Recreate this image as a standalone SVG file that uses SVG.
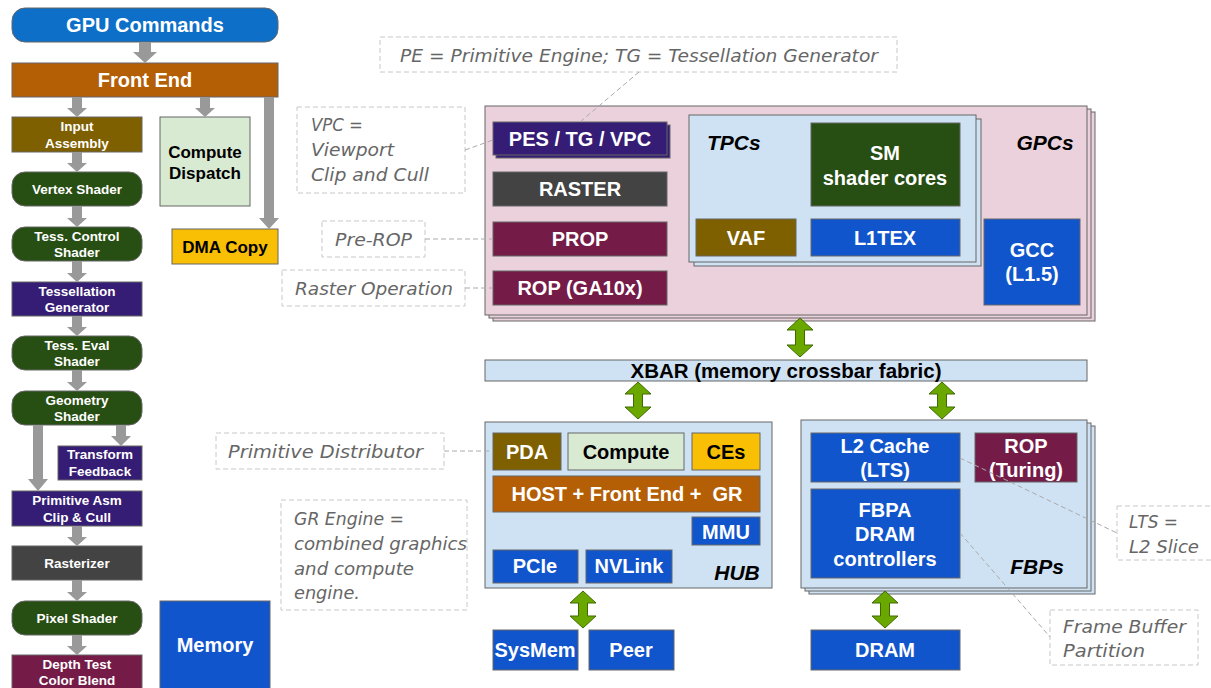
<svg xmlns="http://www.w3.org/2000/svg" width="1211" height="688" viewBox="0 0 1211 688">
<style>
.lb{font-family:"Liberation Sans",Arial,sans-serif;font-weight:bold;text-anchor:middle;fill:#fff}
.sm{font-size:13.5px}
.md{font-size:20px}
.lg{font-size:17px}
.dk{fill:#000}
.ti{font-family:"Liberation Sans",Arial,sans-serif;font-weight:bold;font-style:italic;font-size:21px;fill:#000}
.an{font-family:"DejaVu Sans",sans-serif;font-style:italic;font-size:18px;fill:#666}
.ab{fill:#fff;stroke:#c8c8c8;stroke-width:1;stroke-dasharray:5 3}
.ac{stroke:#aaa;stroke-width:1;stroke-dasharray:5 3;fill:none}
.bx{stroke:#666;stroke-width:1}
.blue{fill:#1155cc}.orange{fill:#b45f06}.olive{fill:#7f6000}.green{fill:#274e13}.purple{fill:#351c75}
.gray{fill:#434343}.maroon{fill:#741b47}.mint{fill:#d9ead3}.yellow{fill:#f9bf05}.pink{fill:#ead1dc}.lblue{fill:#cfe2f3}
.ga{fill:#999}
.da{fill:#6aa800;stroke:#3e6a00;stroke-width:1}
</style>
<rect width="1211" height="688" fill="#fff"/>

<!-- Left pipeline -->
<g id="gpu-commands"><rect class="bx" x="12" y="8" width="266" height="34" rx="13" fill="#0d6fc7"/><text class="lb md" x="145" y="32">GPU Commands</text></g>
<g id="front-end"><rect class="bx orange" x="12" y="63" width="266" height="34"/><text class="lb md" x="145" y="87">Front End</text></g>
<g id="input-assembly"><rect class="bx olive" x="12" y="117" width="130" height="35"/><text class="lb sm" x="77" y="131">Input</text><text class="lb sm" x="77" y="148">Assembly</text></g>
<g id="compute-dispatch"><rect class="bx mint" x="160" y="117" width="90" height="89"/><text class="lb lg dk" x="205" y="158">Compute</text><text class="lb lg dk" x="205" y="179">Dispatch</text></g>
<g id="vertex-shader"><rect class="bx green" x="12" y="172" width="130" height="34" rx="13"/><text class="lb sm" x="77" y="194">Vertex Shader</text></g>
<g id="dma-copy"><rect class="bx yellow" x="172" y="229" width="106" height="35"/><text class="lb lg dk" x="225" y="253">DMA Copy</text></g>
<g id="tess-control"><rect class="bx green" x="12" y="227" width="130" height="34" rx="13"/><text class="lb sm" x="77" y="241">Tess. Control</text><text class="lb sm" x="77" y="257">Shader</text></g>
<g id="tess-generator"><rect class="bx purple" x="12" y="282" width="130" height="34"/><text class="lb sm" x="77" y="296">Tessellation</text><text class="lb sm" x="77" y="312">Generator</text></g>
<g id="tess-eval"><rect class="bx green" x="12" y="336" width="130" height="34" rx="13"/><text class="lb sm" x="77" y="350">Tess. Eval</text><text class="lb sm" x="77" y="366">Shader</text></g>
<g id="geometry-shader"><rect class="bx green" x="12" y="391" width="130" height="34" rx="13"/><text class="lb sm" x="77" y="405">Geometry</text><text class="lb sm" x="77" y="421">Shader</text></g>
<g id="transform-feedback"><rect class="bx purple" x="58" y="446" width="84" height="34"/><text class="lb sm" x="100" y="459">Transform</text><text class="lb sm" x="100" y="476">Feedback</text></g>
<g id="primitive-asm"><rect class="bx purple" x="12" y="491" width="130" height="35"/><text class="lb sm" x="77" y="505">Primitive Asm</text><text class="lb sm" x="77" y="522">Clip &amp; Cull</text></g>
<g id="rasterizer"><rect class="bx gray" x="12" y="546" width="130" height="34"/><text class="lb sm" x="77" y="568">Rasterizer</text></g>
<g id="pixel-shader"><rect class="bx green" x="12" y="601" width="130" height="34" rx="13"/><text class="lb sm" x="77" y="623">Pixel Shader</text></g>
<g id="depth-test"><rect class="bx maroon" x="12" y="655" width="130" height="40"/><text class="lb sm" x="77" y="669">Depth Test</text><text class="lb sm" x="77" y="685">Color Blend</text></g>
<g id="memory"><rect class="bx blue" x="160" y="601" width="110" height="95"/><text class="lb md" x="215" y="652">Memory</text></g>

<!-- GPCs -->
<g id="gpcs">
<rect class="bx pink" x="493" y="112" width="602" height="209"/>
<rect class="bx pink" x="489" y="109" width="602" height="209"/>
<rect class="bx pink" x="485" y="106" width="602" height="209"/>
<text class="ti" x="1045" y="150" text-anchor="middle">GPCs</text>
</g>
<g id="pes-tg-vpc"><rect class="bx purple" x="496" y="125" width="174" height="33"/><rect class="bx purple" x="493" y="122" width="174" height="33"/><text class="lb md" x="580" y="146">PES / TG / VPC</text></g>
<g id="raster"><rect class="bx gray" x="493" y="172" width="174" height="34"/><text class="lb md" x="580" y="196">RASTER</text></g>
<g id="prop"><rect class="bx maroon" x="493" y="222" width="174" height="34"/><text class="lb md" x="580" y="246">PROP</text></g>
<g id="rop-ga10x"><rect class="bx maroon" x="493" y="271" width="174" height="34"/><text class="lb md" x="580" y="295">ROP (GA10x)</text></g>
<g id="tpcs">
<rect class="bx lblue" x="694" y="119" width="287" height="147"/>
<rect class="bx lblue" x="689" y="115" width="287" height="147"/>
<text class="ti" x="707" y="150">TPCs</text>
</g>
<g id="sm"><rect class="bx green" x="811" y="123" width="149" height="83"/><text class="lb md" x="885" y="160">SM</text><text class="lb md" x="885" y="185">shader cores</text></g>
<g id="vaf"><rect class="bx olive" x="696" y="219" width="100" height="37"/><text class="lb md" x="746" y="245">VAF</text></g>
<g id="l1tex"><rect class="bx blue" x="811" y="219" width="149" height="37"/><text class="lb md" x="885" y="245">L1TEX</text></g>
<g id="gcc"><rect class="bx blue" x="984" y="219" width="96" height="86"/><text class="lb md" x="1032" y="257">GCC</text><text class="lb md" x="1032" y="281">(L1.5)</text></g>

<!-- XBAR -->
<g id="xbar"><rect class="bx lblue" x="485" y="360" width="602" height="21"/><text class="lb dk" style="font-size:20.5px" x="786" y="378">XBAR (memory crossbar fabric)</text></g>

<!-- HUB -->
<g id="hub"><rect class="bx lblue" x="485" y="422" width="287" height="166"/><text class="ti" x="737" y="580" text-anchor="middle">HUB</text></g>
<g id="pda"><rect class="bx olive" x="493" y="433" width="68" height="37"/><text class="lb md" x="527" y="459">PDA</text></g>
<g id="compute"><rect class="bx mint" x="568" y="433" width="116" height="37"/><text class="lb md dk" x="626" y="459">Compute</text></g>
<g id="ces"><rect class="bx yellow" x="692" y="433" width="68" height="37"/><text class="lb md dk" x="726" y="459">CEs</text></g>
<g id="host-fe-gr"><rect class="bx orange" x="493" y="476" width="267" height="36"/><text class="lb md" x="627" y="501" xml:space="preserve">HOST + Front End +  GR</text></g>
<g id="mmu"><rect class="bx blue" x="692" y="517" width="68" height="28"/><text class="lb md" x="726" y="539">MMU</text></g>
<g id="pcie"><rect class="bx blue" x="493" y="550" width="85" height="33"/><text class="lb md" x="535" y="573">PCIe</text></g>
<g id="nvlink"><rect class="bx blue" x="586" y="550" width="86" height="33"/><text class="lb md" x="629" y="573">NVLink</text></g>
<g id="sysmem"><rect class="bx blue" x="493" y="630" width="85" height="40"/><text class="lb md" x="535" y="657">SysMem</text></g>
<g id="peer"><rect class="bx blue" x="589" y="630" width="85" height="40"/><text class="lb md" x="631" y="657">Peer</text></g>

<!-- FBPs -->
<g id="fbps">
<rect class="bx lblue" x="809" y="426" width="286" height="168"/>
<rect class="bx lblue" x="805" y="423" width="286" height="168"/>
<rect class="bx lblue" x="801" y="420" width="286" height="168"/>
<text class="ti" x="1037" y="574" text-anchor="middle">FBPs</text>
</g>
<g id="l2-cache"><rect class="bx blue" x="811" y="433" width="149" height="49"/><text class="lb md" x="885" y="453">L2 Cache</text><text class="lb md" x="885" y="477">(LTS)</text></g>
<g id="rop-turing"><rect class="bx maroon" x="975" y="433" width="102" height="49"/><text class="lb md" x="1026" y="453">ROP</text><text class="lb md" x="1026" y="477">(Turing)</text></g>
<g id="fbpa"><rect class="bx blue" x="811" y="489" width="149" height="89"/><text class="lb md" x="885" y="517">FBPA</text><text class="lb md" x="885" y="541">DRAM</text><text class="lb md" x="885" y="566">controllers</text></g>
<g id="dram"><rect class="bx blue" x="811" y="630" width="149" height="40"/><text class="lb md" x="885" y="657">DRAM</text></g>

<!-- Annotations -->
<g id="note-pe-tg"><rect class="ab" x="380" y="37" width="517" height="35"/><text class="an" x="400" y="62" textLength="478" lengthAdjust="spacingAndGlyphs">PE = Primitive Engine; TG = Tessellation Generator</text></g>
<g id="note-vpc"><rect class="ab" x="297" y="107" width="168" height="86"/><text class="an" x="311" y="131" textLength="52" lengthAdjust="spacingAndGlyphs">VPC =</text><text class="an" x="311" y="156" textLength="83" lengthAdjust="spacingAndGlyphs">Viewport</text><text class="an" x="311" y="181" textLength="118" lengthAdjust="spacingAndGlyphs">Clip and Cull</text></g>
<g id="note-prerop"><rect class="ab" x="322" y="221" width="103" height="36"/><text class="an" x="335" y="246" textLength="77" lengthAdjust="spacingAndGlyphs">Pre-ROP</text></g>
<g id="note-rop"><rect class="ab" x="282" y="270" width="183" height="36"/><text class="an" x="295" y="295" textLength="158" lengthAdjust="spacingAndGlyphs">Raster Operation</text></g>
<g id="note-pda"><rect class="ab" x="216" y="433" width="228" height="36"/><text class="an" x="228" y="458" textLength="195" lengthAdjust="spacingAndGlyphs">Primitive Distributor</text></g>
<g id="note-gr"><rect class="ab" x="281" y="500" width="186" height="110"/><text class="an" x="294" y="525" textLength="110" lengthAdjust="spacingAndGlyphs">GR Engine =</text><text class="an" x="294" y="550" textLength="173" lengthAdjust="spacingAndGlyphs">combined graphics</text><text class="an" x="294" y="575" textLength="120" lengthAdjust="spacingAndGlyphs">and compute</text><text class="an" x="294" y="599" textLength="66" lengthAdjust="spacingAndGlyphs">engine.</text></g>
<g id="note-lts"><rect class="ab" x="1117" y="506" width="100" height="54"/><text class="an" x="1129" y="528" textLength="49" lengthAdjust="spacingAndGlyphs">LTS =</text><text class="an" x="1129" y="553" textLength="70" lengthAdjust="spacingAndGlyphs">L2 Slice</text></g>
<g id="note-fbp"><rect class="ab" x="1050" y="610" width="148" height="55"/><text class="an" x="1063" y="633" textLength="123" lengthAdjust="spacingAndGlyphs">Frame Buffer</text><text class="an" x="1063" y="657" textLength="82" lengthAdjust="spacingAndGlyphs">Partition</text></g>

<!-- Connectors -->
<g id="connectors">
<polygon class="ga" points="139,42 151,42 151,52 157,52 145,63 133,52 139,52"/>
<polygon class="ga" points="72,97 82,97 82,108 87,108 77,117 67,108 72,108"/>
<polygon class="ga" points="200,97 210,97 210,108 215,108 205,117 195,108 200,108"/>
<polygon class="ga" points="264,97 274,97 274,218 279,218 269,229 259,218 264,218"/>
<polygon class="ga" points="72,152 82,152 82,163 87,163 77,172 67,163 72,163"/>
<polygon class="ga" points="72,206 82,206 82,218 87,218 77,227 67,218 72,218"/>
<polygon class="ga" points="72,261 82,261 82,273 87,273 77,282 67,273 72,273"/>
<polygon class="ga" points="72,316 82,316 82,327 87,327 77,336 67,327 72,327"/>
<polygon class="ga" points="72,370 82,370 82,382 87,382 77,391 67,382 72,382"/>
<polygon class="ga" points="33,425 43,425 43,479 48,479 38,491 28,479 33,479"/>
<polygon class="ga" points="116,425 126,425 126,436 131,436 121,446 111,436 116,436"/>
<polygon class="ga" points="72,526 82,526 82,537 87,537 77,546 67,537 72,537"/>
<polygon class="ga" points="72,580 82,580 82,592 87,592 77,601 67,592 72,592"/>
<polygon class="ga" points="72,635 82,635 82,646 87,646 77,655 67,646 72,646"/>

<polygon class="da" points="800,318 813,330 804.5,330 804.5,345 813,345 800,357 787,345 795.5,345 795.5,330 787,330"/>
<polygon class="da" points="638,382 651,394 642.5,394 642.5,407 651,407 638,419 625,407 633.5,407 633.5,394 625,394"/>
<polygon class="da" points="942,382 955,394 946.5,394 946.5,407 955,407 942,419 929,407 937.5,407 937.5,394 929,394"/>
<polygon class="da" points="583,591 596,603 587.5,603 587.5,616 596,616 583,628 570,616 578.5,616 578.5,603 570,603"/>
<polygon class="da" points="885,591 898,603 889.5,603 889.5,616 898,616 885,628 872,616 880.5,616 880.5,603 872,603"/>

<line class="ac" x1="639" y1="72" x2="580" y2="122"/>
<line class="ac" x1="465" y1="150" x2="493" y2="140"/>
<line class="ac" x1="425" y1="239" x2="493" y2="239"/>
<line class="ac" x1="465" y1="288" x2="493" y2="288"/>
<line class="ac" x1="444" y1="451" x2="493" y2="451"/>
<line class="ac" x1="960" y1="458" x2="1117" y2="533"/>
<line class="ac" x1="960" y1="533" x2="1050" y2="637"/>
</g>
</svg>
